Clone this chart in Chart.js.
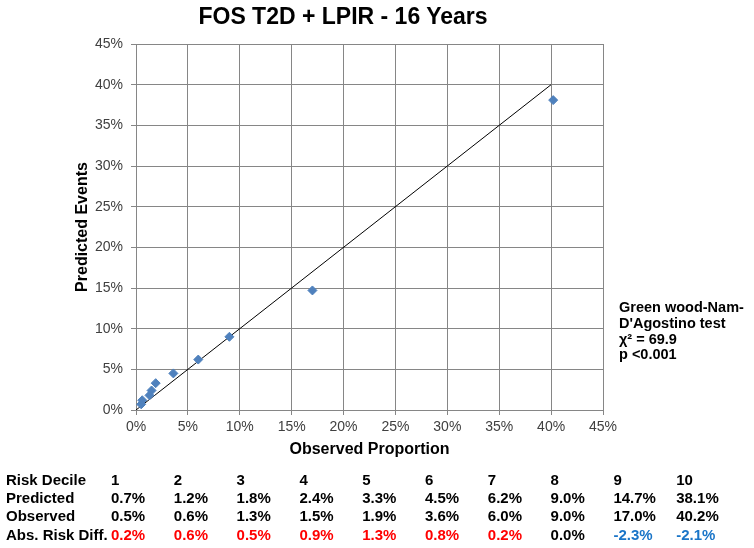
<!DOCTYPE html>
<html>
<head>
<meta charset="utf-8">
<script src="https://cdn.jsdelivr.net/npm/chart.js@4/dist/chart.umd.min.js"></script>
<style>
html, body { margin: 0; padding: 0; background: #fff; }
#wrap { position: relative; width: 754px; height: 548px; overflow: hidden; background: #fff;
        font-family: "Liberation Sans", Arial, sans-serif; }
#c { position: absolute; left: 0; top: 0; }
.t { position: absolute; white-space: nowrap; font-weight: bold; color: #000; }
#title { left: 0; width: 686px; top: 3px; text-align: center; font-size: 23px; line-height: 26px; }
#note { left: 619px; top: 300px; font-size: 14.5px; line-height: 15.8px; }
.cell { position: absolute; white-space: nowrap; font-weight: bold; font-size: 15px; line-height: 18px; }
</style>
</head>
<body>
<div id="wrap">
  <canvas id="c" width="754" height="548"></canvas>
  <div id="title" class="t">FOS T2D + LPIR - 16 Years</div>
  <div id="note" class="t">Green wood-Nam-<br>D'Agostino test<br>χ² = 69.9<br>p &lt;0.001</div>
  <div id="table"></div>
</div>
<script>
// ---- data ----
const deciles   = ['1', '2', '3', '4', '5', '6', '7', '8', '9', '10'];
const predicted = [0.7, 1.2, 1.8, 2.4, 3.3, 4.5, 6.2, 9.0, 14.7, 38.1];
const observed  = [0.5, 0.6, 1.3, 1.5, 1.9, 3.6, 6.0, 9.0, 17.0, 40.2];
const absDiff   = [0.2, 0.6, 0.5, 0.9, 1.3, 0.8, 0.2, 0.0, -2.3, -2.1];
const refLineX  = [0, 40];
const refLineY  = [0, 40];
const tickValues = [0, 5, 10, 15, 20, 25, 30, 35, 40, 45];
const tickLabels = ['0%', '5%', '10%', '15%', '20%', '25%', '30%', '35%', '40%', '45%'];
const rowLabels = ['Risk Decile', 'Predicted', 'Observed', 'Abs. Risk Diff.'];

// ---- table below the chart ----
const table = document.getElementById('table');
const rowTops = [471, 489, 507, 526];
const colX = i => 111 + i * 62.8;
function addCell(text, left, top, color) {
  const d = document.createElement('div');
  d.className = 'cell';
  d.textContent = text;
  d.style.left = left + 'px';
  d.style.top = top + 'px';
  d.style.color = color || '#000';
  table.appendChild(d);
}
rowLabels.forEach((lab, r) => addCell(lab, 6, rowTops[r]));
deciles.forEach((d, i) => addCell(d, colX(i), rowTops[0]));
predicted.forEach((v, i) => addCell(v.toFixed(1) + '%', colX(i), rowTops[1]));
observed.forEach((v, i) => addCell(v.toFixed(1) + '%', colX(i), rowTops[2]));
absDiff.forEach((v, i) => addCell(v.toFixed(1) + '%', colX(i), rowTops[3],
  v > 0 ? '#ff0000' : (v < 0 ? '#1a75c8' : '#000')));

// ---- chart ----
const gridColor = '#868686';
const tickFont = { family: '"Liberation Sans", Arial, sans-serif', size: 14 };
const titleFont = { family: '"Liberation Sans", Arial, sans-serif', size: 16, weight: 'bold' };
const setTicks = s => { s.ticks = tickValues.map(v => ({ value: v })); };
const fmt = (v) => tickLabels[tickValues.indexOf(v)];

new Chart(document.getElementById('c'), {
  type: 'scatter',
  data: {
    datasets: [
      {
        label: 'Deciles',
        data: observed.map((x, i) => ({ x: x, y: predicted[i] })),
        pointStyle: 'rectRot',
        pointRadius: 4.5,
        pointBackgroundColor: '#4F81BD',
        pointBorderColor: '#4F81BD',
        pointBorderWidth: 1,
        showLine: false,
        order: 0
      },
      {
        label: 'Reference',
        data: refLineX.map((x, i) => ({ x: x, y: refLineY[i] })),
        showLine: true,
        borderColor: '#000',
        borderWidth: 1,
        pointRadius: 0,
        order: 1
      }
    ]
  },
  options: {
    responsive: false,
    animation: false,
    devicePixelRatio: 1,
    layout: { padding: { left: 0, right: 151, top: 44, bottom: 0 } },
    plugins: {
      legend: { display: false },
      tooltip: { enabled: false },
      title: { display: false }
    },
    scales: {
      x: {
        type: 'linear', min: 0, max: 45,
        afterBuildTicks: setTicks,
        afterFit: s => { s.height = 138; },
        ticks: { callback: fmt, font: tickFont, color: '#404040', padding: 4, maxRotation: 0, autoSkip: false },
        grid: { color: gridColor, tickLength: 5, lineWidth: 1 },
        border: { color: gridColor },
        title: { display: true, text: 'Observed Proportion', font: titleFont, color: '#000', padding: { top: 0, bottom: 89 } }
      },
      y: {
        type: 'linear', min: 0, max: 45,
        afterBuildTicks: setTicks,
        afterFit: s => { s.width = 136; },
        ticks: { callback: fmt, font: tickFont, color: '#404040', padding: 8, autoSkip: false },
        grid: { color: gridColor, tickLength: 5, lineWidth: 1 },
        border: { color: gridColor },
        title: { display: true, text: 'Predicted Events', font: titleFont, color: '#000', padding: { top: 73, bottom: 0 } }
      }
    }
  }
});
</script>
</body>
</html>
